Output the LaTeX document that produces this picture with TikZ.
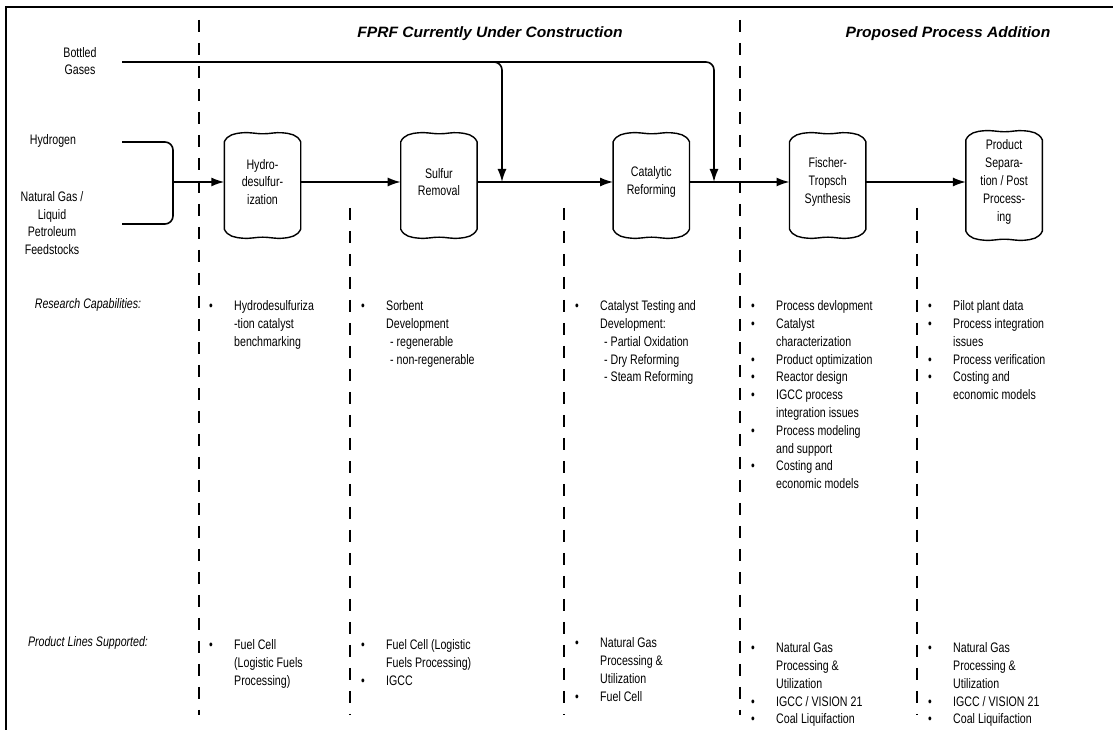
\documentclass[tikz,border=0pt]{standalone}
\usepackage{fontspec}
\setmainfont{Liberation Sans}[FakeStretch=0.77]
\newfontfamily\headfont{Liberation Sans}[FakeStretch=1.04]
\usetikzlibrary{arrows.meta,positioning}

\newcommand\body{\fontsize{13.8}{17.8}\selectfont}
\newcommand\tstrut{\rule{0pt}{11pt}}
\newcommand\itm{\makebox[25pt][l]{\textbullet}}
\newcommand\ind{\makebox[25pt]{}}
\newcommand\subitm{\hspace*{4pt}-\ }

\begin{document}
\begin{tikzpicture}[
  x=1pt, y=1pt,
  vessel/.style={minimum width=76pt, minimum height=80pt, inner sep=0pt, align=center, font=\body},
  vline/.style={line width=1.4pt},
  line/.style={line width=1.6pt},
  arrow/.style={-{Latex[length=13pt,width=9pt]}, line width=1.6pt},
  divider/.style={line width=2pt, dash pattern=on 12pt off 11pt},
  head/.style={anchor=base, font=\headfont\fontsize{15}{18}\selectfont\bfseries\itshape},
  lbl/.style={align=center, inner sep=0pt, font=\body},
  side/.style={anchor=base, inner sep=0pt, font=\body\itshape},
  col/.style={anchor=north west, inner sep=0pt, align=left, font=\body}
]
\useasboundingbox (0,0) rectangle (1113,730);

% frame and column dividers
\draw[line width=2.5pt] (6,0) -- (6,723) -- (1113,723);
\foreach \x/\y in {199/710, 350/522, 564/522, 740/710, 917/522}
  \draw[divider] (\x,\y) -- (\x,15);

\node[head] (fprf) at (490,692) {FPRF Currently Under Construction};
\node[head] (ppa) at (948,692) {Proposed Process Addition};

% feeds
\node[lbl] (bg) at (80,669) {Bottled\\Gases};
\node[lbl] (h2) at (53,589) {Hydrogen};
\node[lbl] (ng) at (52,507) {Natural Gas /\\Liquid\\Petroleum\\Feedstocks};
\coordinate (bgout) at (122,668);
\coordinate (h2out) at (122,588);
\coordinate (ngout) at (122,506);
\coordinate (mix) at (173,548);

% process vessels
\node[vessel] (hds) at (262.5,548) {Hydro-\\desulfur-\\ization};
\node[vessel, right=100pt of hds] (sulf) {Sulfur\\Removal};
\node[vessel, right=136pt of sulf] (cat) {Catalytic\\Reforming};
\node[vessel, right=100pt of cat] (ft) {Fischer-\\Tropsch\\Synthesis};
\node[vessel, right=100pt of ft] (prod) {Product\\Separa-\\tion / Post\\Process-\\ing};
\foreach \v in {hds,sulf,cat,ft,prod}
  \draw[vline] ([yshift=-7pt]\v.south west) -- (\v.north west)
    to[out=65,in=185] ++(18,9) to[out=5,in=180] ++(21,-1)
    to[out=0,in=175] ++(19,1) to[out=-5,in=115] (\v.north east)
    -- ([yshift=-7pt]\v.south east)
    to[out=-115,in=5] ++(-18,-9) to[out=185,in=0] ++(-20,1)
    to[out=180,in=-5] ++(-20,-1) to[out=175,in=-65] ([yshift=-7pt]\v.south west) -- cycle;

\coordinate (j1) at (502,548);
\coordinate (j2) at (714,548);

% flows
\draw[line, rounded corners=8pt] (h2out) -| (mix) |- (ngout);
\draw[arrow] (mix) -- (hds);
\draw[arrow] (hds) -- (sulf);
\draw[arrow] (sulf) -- (cat);
\draw[arrow] (cat) -- (ft);
\draw[arrow] (ft) -- (prod);
\draw[arrow, rounded corners=8pt] (bgout) -| (j1);
\draw[arrow, rounded corners=8pt] (bgout) -| (j2);

% research capabilities
\node[side] (rc) at (88,421) {Research Capabilities:};
\node[col] (rc1) at (209,430.5) {\tstrut\itm Hydrodesulfuriza\\\ind -tion catalyst\\\ind benchmarking};
\node[col] (rc2) at (361,430.5) {\tstrut\itm Sorbent\\\ind Development\\\ind\subitm regenerable\\\ind\subitm non-regenerable};
\node[col] (rc3) at (575,430.5) {\tstrut\itm Catalyst Testing and\\\ind Development:\\\ind\subitm Partial Oxidation\\\ind\subitm Dry Reforming\\\ind\subitm Steam Reforming};
\node[col] (rc4) at (751,430.5) {\tstrut\itm Process devlopment\\\itm Catalyst\\\ind characterization\\\itm Product optimization\\\itm Reactor design\\\itm IGCC process\\\ind integration issues\\\itm Process modeling\\\ind and support\\\itm Costing and\\\ind economic models};
\node[col] (rc5) at (928,430.5) {\tstrut\itm Pilot plant data\\\itm Process integration\\\ind issues\\\itm Process verification\\\itm Costing and\\\ind economic models};

% product lines supported
\node[side] (pl) at (88,83) {Product Lines Supported:};
\node[col] (pl1) at (209,91.5) {\tstrut\itm Fuel Cell\\\ind (Logistic Fuels\\\ind Processing)};
\node[col] (pl2) at (361,91.5) {\tstrut\itm Fuel Cell (Logistic\\\ind Fuels Processing)\\\itm IGCC};
\node[col] (pl3) at (575,93.5) {\tstrut\itm Natural Gas\\\ind Processing \&\\\ind Utilization\\\itm Fuel Cell};
\node[col] (pl4) at (751,88.5) {\tstrut\itm Natural Gas\\\ind Processing \&\\\ind Utilization\\\itm IGCC / VISION 21\\\itm Coal Liquifaction};
\node[col] (pl5) at (928,88.5) {\tstrut\itm Natural Gas\\\ind Processing \&\\\ind Utilization\\\itm IGCC / VISION 21\\\itm Coal Liquifaction};

\end{tikzpicture}
\end{document}
